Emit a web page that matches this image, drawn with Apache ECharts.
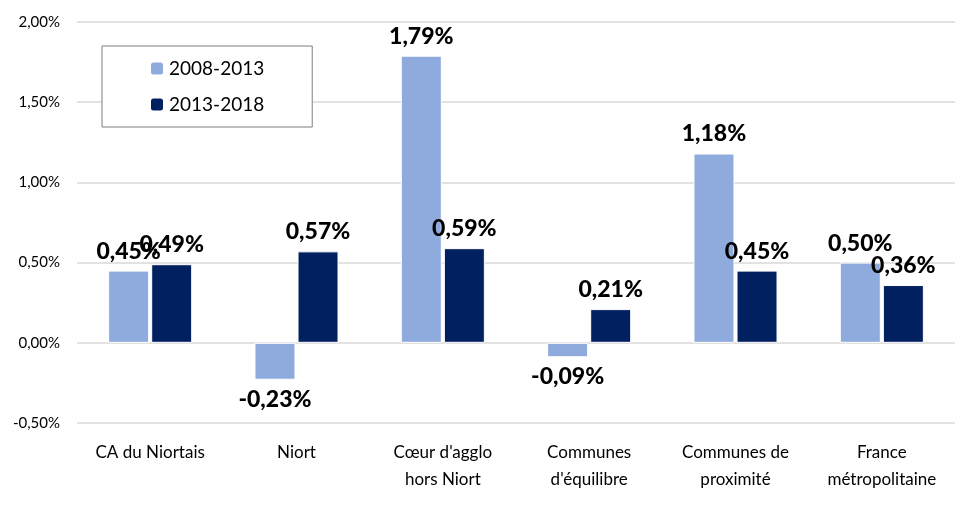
<!DOCTYPE html>
<html>
<head>
<meta charset="utf-8">
<script src="https://cdn.jsdelivr.net/npm/echarts@6/dist/echarts.min.js"></script>
<style>
  html, body { margin: 0; padding: 0; background: #fff; }
  #chart { width: 961px; height: 505px; }
</style>
</head>
<body>
<div id="chart"></div>
<script>
// categories and series values (in %)
const categories = [
  'CA du Niortais',
  'Niort',
  "Cœur d'agglo\nhors Niort",
  "Communes\nd'équilibre",
  'Communes de\nproximité',
  'France\nmétropolitaine'
]
const period1 = [0.45, -0.23, 1.79, -0.09, 1.18, 0.50]
const period2 = [0.49, 0.57, 0.59, 0.21, 0.45, 0.36]
const seriesNames = ['2008-2013', '2013-2018']

const fmt = v => v.toFixed(2).replace('.', ',') + '%'

const chart = echarts.init(document.getElementById('chart'))

// labels go above positive bars and below negative ones
const toItems = arr => arr.map(v => ({
  value: v,
  label: { position: v < 0 ? 'bottom' : 'top' }
}))

const barLabel = {
  show: true,
  distance: 8,
  fontFamily: 'Lato',
  fontWeight: 900,
  fontSize: 23,
  color: '#000',
  formatter: p => fmt(p.value)
}

const option = {
  backgroundColor: '#fff',
  textStyle: { fontFamily: 'Lato' },
  legend: {
    data: seriesNames,
    orient: 'vertical',
    left: 102,
    top: 46,
    padding: [13, 48, 13, 47],
    itemGap: 17,
    itemWidth: 14,
    itemHeight: 14,
    backgroundColor: '#fff',
    borderColor: '#7f7f7f',
    borderWidth: 1,
    textStyle: { fontSize: 19, color: '#000', fontFamily: 'Lato' }
  },
  grid: {
    left: 77,
    right: 6,
    top: 22,
    bottom: 82
  },
  xAxis: {
    type: 'category',
    data: categories,
    axisLine: { show: false },
    axisTick: { show: false },
    axisLabel: {
      margin: 16,
      fontSize: 17,
      lineHeight: 27,
      color: '#000',
      interval: 0
    }
  },
  yAxis: {
    type: 'value',
    min: -0.5,
    max: 2,
    interval: 0.5,
    axisLine: { show: false },
    axisTick: { show: false },
    splitLine: { lineStyle: { color: '#d9d9d9', width: 1.5 } },
    axisLabel: {
      margin: 17,
      fontSize: 15,
      color: '#000',
      formatter: v => fmt(v)
    }
  },
  series: [
    {
      name: seriesNames[0],
      type: 'bar',
      data: toItems(period1),
      barWidth: 41,
      barGap: '5%',
      itemStyle: { color: '#8faadc', borderColor: '#fff', borderWidth: 1 },
      label: barLabel
    },
    {
      name: seriesNames[1],
      type: 'bar',
      data: toItems(period2),
      barWidth: 41,
      itemStyle: { color: '#002060', borderColor: '#fff', borderWidth: 1 },
      label: barLabel
    }
  ]
}

chart.setOption(option)
</script>
</body>
</html>
